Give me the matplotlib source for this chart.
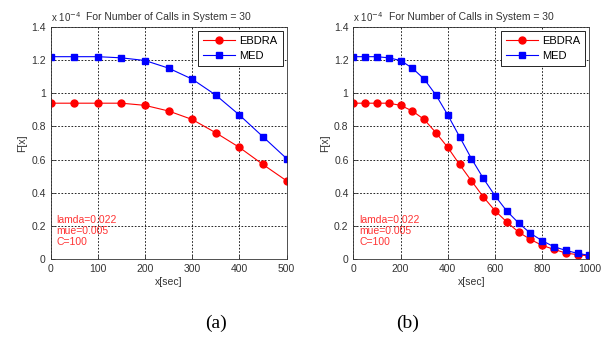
import numpy as np
import matplotlib.pyplot as plt

# data (F[x] in units of 1e-4)
x_a = [0, 50, 100, 150, 200, 250, 300, 350, 400, 450, 500]
ebdra_a = [0.94, 0.94, 0.94, 0.94, 0.927, 0.893, 0.842, 0.762, 0.674, 0.571, 0.473]
med_a = [1.22, 1.22, 1.22, 1.213, 1.197, 1.151, 1.085, 0.989, 0.869, 0.738, 0.607]

x_b = [0, 50, 100, 150, 200, 250, 300, 350, 400, 450, 500,
       550, 600, 650, 700, 750, 800, 850, 900, 950, 1000]
ebdra_b = [0.94, 0.94, 0.94, 0.94, 0.927, 0.893, 0.842, 0.762, 0.674, 0.571, 0.473,
           0.377, 0.293, 0.225, 0.164, 0.120, 0.084, 0.060, 0.038, 0.028, 0.020]
med_b = [1.22, 1.22, 1.22, 1.213, 1.197, 1.151, 1.085, 0.989, 0.869, 0.738, 0.607,
         0.489, 0.383, 0.291, 0.219, 0.157, 0.112, 0.076, 0.054, 0.036, 0.024]

yticks = [0, 0.2, 0.4, 0.6, 0.8, 1.0, 1.2, 1.4]
ytick_labels = ['0', '0.2', '0.4', '0.6', '0.8', '1', '1.2', '1.4']
params = "lamda=0.022\nmue=0.005\nC=100"
title = "For Number of Calls in System = 30"

plt.rcParams['font.family'] = ['Liberation Sans', 'DejaVu Sans']
fig = plt.figure(figsize=(6.02, 3.39), dpi=100)

panels = [
    (0.084, x_a, ebdra_a, med_a, [0, 500], [0, 100, 200, 300, 400, 500], '(a)', 0.7, 12),
    (0.587, x_b, ebdra_b, med_b, [0, 1000], [0, 200, 400, 600, 800, 1000], '(b)', 0.23, 25),
]

for left, xs, e, m, xlim, xticks, cap, cx, tx in panels:
    ax = fig.add_axes([left, 0.235, 0.392, 0.686])
    ax.plot(xs, e, color='#ff0000', lw=0.8, marker='o', ms=5, mec='#ff0000',
            mfc='#ff0000', label='EBDRA')
    ax.plot(xs, m, color='#0000ff', lw=0.8, marker='s', ms=5, mec='#0000ff',
            mfc='#0000ff', label='MED')
    ax.set_xlim(xlim)
    ax.set_ylim(0, 1.4)
    ax.set_xticks(xticks)
    ax.set_yticks(yticks)
    ax.set_yticklabels(ytick_labels)
    ax.tick_params(labelsize=7.5, colors='#333333', direction='in', length=3, width=0.6)
    ax.grid(True, color='black', ls=(0, (2, 2)), lw=0.6)
    for s in ax.spines.values():
        s.set_linewidth(0.6)
        s.set_color('#333333')
    ax.set_xlabel('x[sec]', fontsize=7.5, color='#333333', labelpad=2)
    ax.set_ylabel('F[x]', fontsize=7.5, color='#333333', labelpad=3)
    ax.text(0.0, 1.012, r'x 10$^{-4}$', transform=ax.transAxes, fontsize=7,
            color='#333333', ha='left', va='bottom')
    ax.text(0.15, 1.02, title, transform=ax.transAxes, fontsize=7.5,
            color='#333333', ha='left', va='bottom')
    ax.text(tx, 0.17, params, fontsize=7.5, color='#ff3333', ha='left', va='center',
            linespacing=1.1)
    leg = ax.legend(loc='upper right', fontsize=8, frameon=True, fancybox=False,
                    edgecolor='black', framealpha=1, borderaxespad=0.35,
                    handlelength=2.9, labelspacing=0.45, borderpad=0.45,
                    handletextpad=0.4)
    leg.get_frame().set_linewidth(0.6)
    ax.text(cx, -0.24, cap, transform=ax.transAxes,
            fontsize=14, family='Liberation Serif', ha='center', va='top')

fig.savefig('out.png', dpi=100)
